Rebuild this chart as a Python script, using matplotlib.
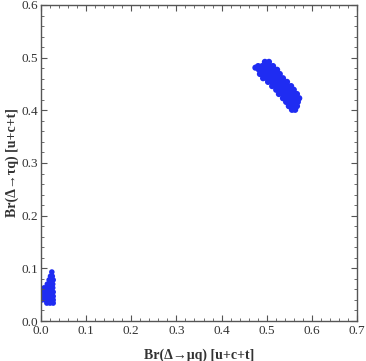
import matplotlib
matplotlib.use("Agg")
import matplotlib.pyplot as plt
from matplotlib.ticker import MultipleLocator, FormatStrFormatter

# Upper cluster (Br(mu q), Br(tau q))
upper_x = [0.496, 0.505,
           0.481, 0.490, 0.498, 0.507, 0.514,
           0.483, 0.492, 0.501, 0.510, 0.518, 0.523,
           0.485, 0.494, 0.503, 0.512, 0.521, 0.529,
           0.492, 0.501, 0.510, 0.518, 0.527, 0.536,
           0.503, 0.512, 0.521, 0.529, 0.538, 0.545,
           0.512, 0.521, 0.529, 0.538, 0.547, 0.554,
           0.521, 0.529, 0.538, 0.547, 0.556, 0.560,
           0.527, 0.536, 0.545, 0.554, 0.563, 0.567,
           0.536, 0.545, 0.554, 0.563, 0.572,
           0.543, 0.552, 0.560, 0.569,
           0.549, 0.558, 0.567,
           0.556, 0.563,
           0.475]
upper_y = [0.492, 0.492,
           0.484, 0.484, 0.484, 0.484, 0.484,
           0.477, 0.477, 0.477, 0.477, 0.477, 0.477,
           0.469, 0.469, 0.469, 0.469, 0.469, 0.469,
           0.461, 0.461, 0.461, 0.461, 0.461, 0.461,
           0.454, 0.454, 0.454, 0.454, 0.454, 0.454,
           0.446, 0.446, 0.446, 0.446, 0.446, 0.446,
           0.439, 0.439, 0.439, 0.439, 0.439, 0.439,
           0.431, 0.431, 0.431, 0.431, 0.431, 0.431,
           0.423, 0.423, 0.423, 0.423, 0.423,
           0.416, 0.416, 0.416, 0.416,
           0.408, 0.408, 0.408,
           0.401, 0.401,
           0.481]

# Lower cluster
lower_x = [0.024,
           0.021, 0.025,
           0.018, 0.023, 0.027,
           0.014, 0.020, 0.026,
           0.007, 0.013, 0.020, 0.026,
           0.002, 0.009, 0.016, 0.022, 0.027,
           0.002, 0.009, 0.016, 0.022, 0.027,
           0.002, 0.009, 0.016, 0.022, 0.027,
           0.013, 0.020, 0.027]
lower_y = [0.093,
           0.085, 0.085,
           0.078, 0.078, 0.078,
           0.070, 0.070, 0.070,
           0.063, 0.063, 0.063, 0.063,
           0.055, 0.055, 0.055, 0.055, 0.055,
           0.047, 0.047, 0.047, 0.047, 0.047,
           0.040, 0.040, 0.040, 0.040, 0.040,
           0.034, 0.034, 0.034]

x_label = "Br(Δ→μq) [u+c+t]"
y_label = "Br(Δ→τq) [u+c+t]"

plt.rcParams['font.family'] = ['Liberation Serif', 'DejaVu Serif']

fig = plt.figure(figsize=(3.66, 3.61), dpi=100)
ax = fig.add_axes([41/366, 1 - 321/361, 316/366, 316/361])

color = '#1f2cf2'
ax.scatter(upper_x, upper_y, s=20, color=color, edgecolors='none')
ax.scatter(lower_x, lower_y, s=16, color=color, edgecolors='none')

ax.set_xlim(0, 0.7)
ax.set_ylim(0, 0.6)
ax.xaxis.set_major_locator(MultipleLocator(0.1))
ax.xaxis.set_minor_locator(MultipleLocator(0.02))
ax.yaxis.set_major_locator(MultipleLocator(0.1))
ax.yaxis.set_minor_locator(MultipleLocator(0.02))
ax.xaxis.set_major_formatter(FormatStrFormatter('%.1f'))
ax.yaxis.set_major_formatter(FormatStrFormatter('%.1f'))

frame_col = '#555555'
for sp in ax.spines.values():
    sp.set_color(frame_col)
    sp.set_linewidth(1.0)
ax.tick_params(which='both', direction='in', top=True, right=True,
               color=frame_col, labelsize=9.5, labelcolor='#333333')
ax.tick_params(axis='x', which='major', pad=3)
ax.tick_params(axis='y', which='major', pad=2)
ax.tick_params(which='major', length=4, width=0.8)
ax.tick_params(which='minor', length=2, width=0.6)

ax.set_xlabel(x_label, fontsize=10, fontweight='bold', color='#333333', labelpad=8)
ax.set_ylabel(y_label, fontsize=10, fontweight='bold', color='#333333', labelpad=2)

fig.savefig('out.png', dpi=100)
